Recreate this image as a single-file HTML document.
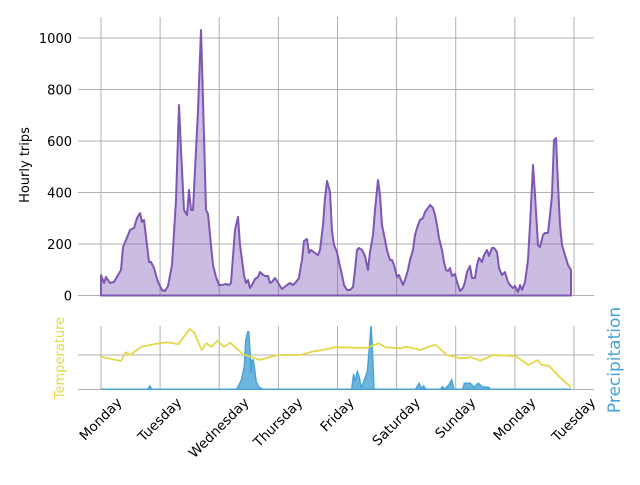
<!DOCTYPE html>
<html><head><style>
html,body{margin:0;padding:0;background:#fff;}
svg text{font-family:"DejaVu Sans","Liberation Sans",sans-serif;}
</style></head><body>
<svg id="s" width="640" height="480" xmlns="http://www.w3.org/2000/svg">
<g stroke="#b0b0b0" stroke-width="1" fill="none">
<line x1="78" y1="38" x2="594" y2="38"/>
<line x1="78" y1="89.5" x2="594" y2="89.5"/>
<line x1="78" y1="141" x2="594" y2="141"/>
<line x1="78" y1="192.5" x2="594" y2="192.5"/>
<line x1="78" y1="244" x2="594" y2="244"/>
<line x1="78" y1="295.5" x2="594" y2="295.5"/>
<line x1="78" y1="355" x2="594" y2="355"/>
<line x1="78" y1="389.5" x2="594" y2="389.5"/>
</g>
<g id="vg" stroke="#b0b0b0" stroke-width="1"></g>
<g font-size="13" fill="#000" text-anchor="end">
<text x="72" y="43">1000</text>
<text x="72" y="94.5">800</text>
<text x="72" y="146">600</text>
<text x="72" y="197.5">400</text>
<text x="72" y="249">200</text>
<text x="72" y="300.5">0</text>
</g>
<text transform="translate(29,165) rotate(-90)" font-size="13" text-anchor="middle">Hourly trips</text>
<text transform="translate(64,358) rotate(-90)" font-size="13" text-anchor="middle" fill="#e3d84a">Temperature</text>
<text transform="translate(620,360) rotate(-90)" font-size="17" text-anchor="middle" fill="#4aa3d6">Precipitation</text>
<path id="trips" fill="#7e57b5" fill-opacity="0.4" stroke="#7e57b5" stroke-width="2" stroke-linejoin="round"/>
<path id="prec" fill="#4aa3d6" fill-opacity="0.8" stroke="#4aa3d6" stroke-width="1.5"/>
<path id="temp" fill="none" stroke="#e3d84a" stroke-width="1.8" stroke-linejoin="round"/>
<g id="lbl" font-size="13.5"></g>
</svg>
<script>
var xs=[101,160.1,219.2,278.4,337.5,396.6,455.7,514.9,574];
var names=["Monday","Tuesday","Wednesday","Thursday","Friday","Saturday","Sunday","Monday","Tuesday"];
var vg=document.getElementById('vg'),lbl=document.getElementById('lbl'),NS="http://www.w3.org/2000/svg";
xs.forEach(function(x,i){
 [[17,295.5],[326,389.5]].forEach(function(r){var l=document.createElementNS(NS,'line');l.setAttribute('x1',x);l.setAttribute('x2',x);l.setAttribute('y1',r[0]);l.setAttribute('y2',r[1]);vg.appendChild(l);});
 var t=document.createElementNS(NS,'text');t.setAttribute('text-anchor','middle');t.setAttribute('dominant-baseline','central');t.textContent=names[i];lbl.appendChild(t);
 var L=t.getComputedTextLength()||names[i].length*8;
 var cy=396+(L+13)*0.3536;
 t.setAttribute('transform','translate('+x+','+cy.toFixed(1)+') rotate(-45)');
});
var tr=[[101,275],[104,283],[106,277],[110,283],[114,282],[118,275],[121,270],[123,247],[126,240],[130,230],[134,228],[137,218],[140,213],[142,222],[144,220],[147,245],[149,262],[151,262],[154,268],[158,282],[162,290],[165,291],[168,286],[172,265],[176,200],[179,105],[181,150],[184,210],[187,215],[189,190],[191,210],[193,210],[196,150],[198,110],[201,30],[203,100],[206,210],[208,214],[211,245],[213,265],[216,277],[219,285],[222,285],[226,284],[229,285],[231,283],[235,230],[238,217],[240,245],[244,275],[246,283],[248,280],[250,288],[252,285],[255,279],[258,277],[260,272],[262,274],[265,276],[268,276],[270,283],[272,282],[275,278],[277,281],[280,286],[282,289],[287,285],[290,283],[293,285],[296,282],[299,278],[300,271],[302,260],[304,241],[307,239],[309,253],[311,250],[315,253],[318,255],[320,250],[323,225],[325,198],[327,181],[330,192],[332,231],[334,245],[337,252],[339,262],[342,275],[344,285],[347,290],[350,290],[353,287],[355,270],[357,250],[359,248],[362,250],[365,256],[368,270],[370,252],[373,235],[375,210],[378,180],[380,195],[382,225],[384,235],[387,250],[390,260],[392,260],[394,265],[397,277],[399,275],[401,280],[403,285],[405,280],[408,270],[410,260],[413,250],[415,235],[418,225],[420,220],[423,218],[425,212],[428,208],[430,205],[433,208],[435,215],[437,225],[439,238],[442,250],[444,262],[446,270],[448,271],[450,268],[452,276],[455,274],[457,282],[460,291],[463,288],[465,282],[467,272],[470,266],[472,278],[475,278],[477,265],[479,258],[482,262],[484,255],[487,250],[489,256],[492,248],[494,248],[497,252],[499,268],[502,275],[505,272],[508,282],[510,285],[513,288],[515,286],[518,292],[520,285],[522,290],[525,282],[528,260],[530,225],[533,165],[535,195],[538,245],[540,247],[543,235],[545,233],[548,233],[550,215],[552,195],[554,140],[556,138],[558,185],[560,225],[562,245],[565,255],[568,265],[571,270]];
var d="M101,295.5 ";tr.forEach(function(p){d+="L"+p[0]+","+p[1]+" ";});d+="L571,295.5Z";
document.getElementById('trips').setAttribute('d',d);
function cx(px){return 101+(px-111)/2.7;}function cy(py){return 300+py/3;}
var tp=[[111,170],[165,183],[178,157],[190,165],[220,140],[260,131],[290,127],[320,133],[350,87],[362,97],[383,150],[395,130],[410,140],[425,122],[443,140],[460,128],[475,143],[495,163],[515,170],[540,180],[570,170],[590,165],[650,165],[680,155],[710,150],[745,142],[800,143],[830,143],[860,130],[880,142],[920,145],[935,140],[975,150],[1000,138],[1015,135],[1045,165],[1080,175],[1110,172],[1135,182],[1170,165],[1230,168],[1265,195],[1290,180],[1300,195],[1320,197],[1350,232],[1380,262]];
var d2="";tp.forEach(function(p,i){d2+=(i?"L":"M")+cx(p[0]).toFixed(1)+","+cy(p[1]).toFixed(1)+" ";});
document.getElementById('temp').setAttribute('d',d2);
var pp=[[111,268],[238,268],[243,258],[248,268],[478,268],[490,240],[498,200],[502,120],[507,95],[510,95],[513,150],[516,220],[519,180],[522,180],[526,210],[530,245],[538,262],[548,268],[788,268],[793,222],[797,245],[803,215],[808,230],[814,265],[822,240],[830,215],[836,140],[840,78],[843,130],[848,268],[960,268],[970,250],[976,265],[982,258],[988,268],[1028,268],[1033,260],[1038,268],[1050,255],[1058,240],[1064,268],[1088,268],[1092,250],[1108,250],[1118,262],[1130,250],[1140,260],[1158,262],[1160,268],[1380,268]];
var d3="";pp.forEach(function(p,i){d3+=(i?"L":"M")+cx(p[0]).toFixed(1)+","+cy(p[1]).toFixed(1)+" ";});d3+="Z";
document.getElementById('prec').setAttribute('d',d3);
</script>
</body></html>
